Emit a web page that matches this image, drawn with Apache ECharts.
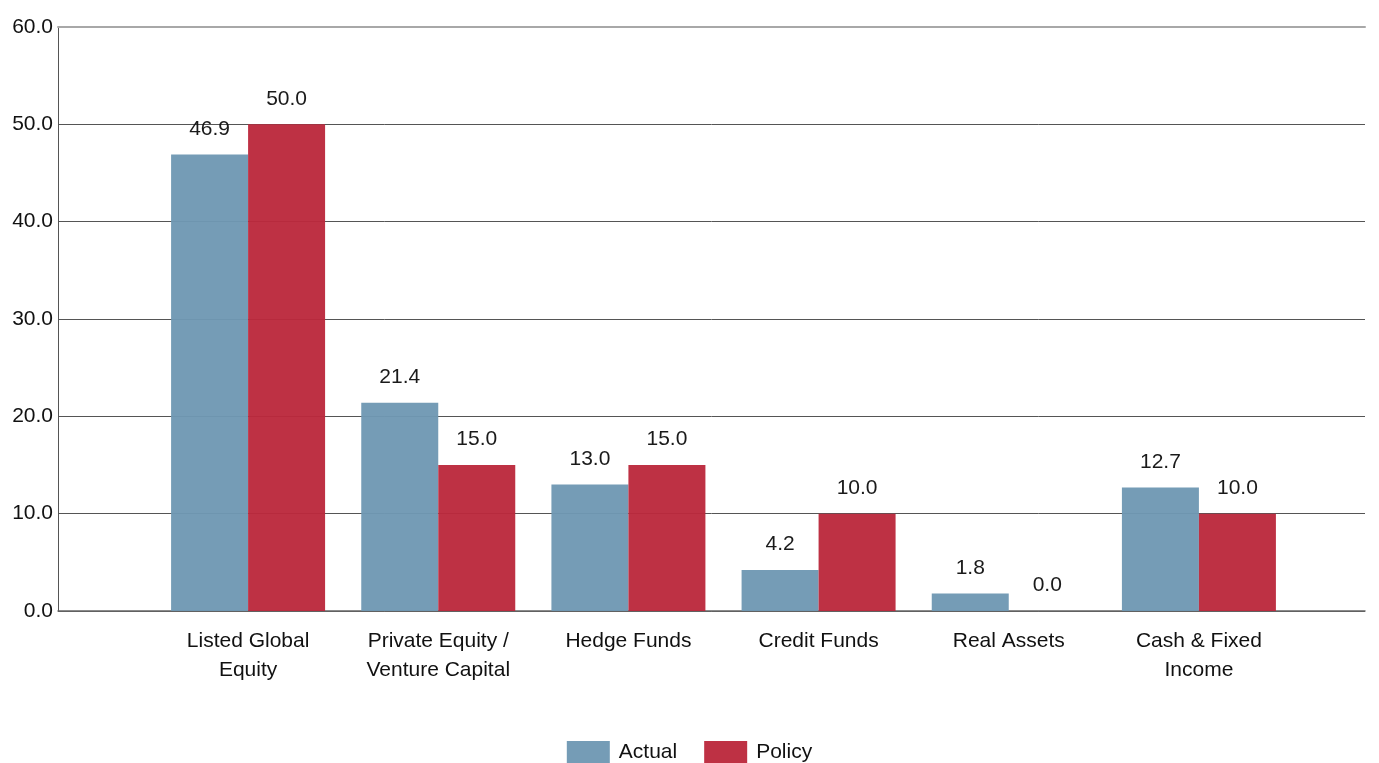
<!DOCTYPE html>
<html>
<head>
<meta charset="utf-8">
<script src="https://cdn.jsdelivr.net/npm/echarts@6/dist/echarts.min.js"></script>
<style>
  html, body { margin: 0; padding: 0; background: #fff; }
  #chart { width: 1379px; height: 763px; }
</style>
</head>
<body>
<div id="chart"></div>
<script>
// data
var categories = ['Listed Global\nEquity', 'Private Equity /\nVenture Capital', 'Hedge Funds', 'Credit Funds', 'Real Assets', 'Cash & Fixed\nIncome']
var actual = [46.9, 21.4, 13.0, 4.2, 1.8, 12.7]
var policy = [50.0, 15.0, 15.0, 10.0, 0.0, 10.0]
var yTicks = [0, 10, 20, 30, 40, 50, 60]

var font = '"Liberation Sans", Arial, sans-serif'
var fs = 21

let chart = echarts.init(document.getElementById('chart'))
chart.setOption({
  animation: false,
  textStyle: { fontFamily: font },
  legend: {
    bottom: -5,
    left: 'center',
    itemWidth: 43,
    itemHeight: 22,
    itemGap: 27,
    icon: 'rect',
    textStyle: { fontFamily: font, fontSize: fs, color: '#111', padding: [0, 0, 0, 4] },
    data: ['Actual', 'Policy']
  },
  grid: [
    // full plot frame: gridlines + y labels
    { left: 58, right: 14, top: 27, bottom: 152 },
    // bars sit in the inner band
    { left: 153, right: 85, top: 27, bottom: 152 }
  ],
  xAxis: [
    {
      gridIndex: 0,
      type: 'category',
      data: [''],
      axisLine: { lineStyle: { color: '#666', width: 1.5 } },
      axisTick: { show: false },
      axisLabel: { show: false }
    },
    {
      gridIndex: 0,
      type: 'category',
      position: 'top',
      data: [''],
      axisLine: { lineStyle: { color: '#a8a8a8', width: 2 } },
      axisTick: { show: false },
      axisLabel: { show: false }
    },
    {
      gridIndex: 1,
      type: 'category',
      data: categories,
      axisLine: { show: false },
      axisTick: { show: false },
      axisLabel: {
        interval: 0,
        margin: 16,
        fontFamily: font,
        fontSize: fs,
        lineHeight: 29,
        color: '#111'
      }
    }
  ],
  yAxis: [
    {
      gridIndex: 0,
      type: 'value',
      min: yTicks[0],
      max: yTicks[yTicks.length - 1],
      interval: 10,
      axisLine: { show: true, lineStyle: { color: '#555', width: 1 } },
      axisTick: { show: false },
      axisLabel: {
        margin: 5,
        fontFamily: font,
        fontSize: fs,
        color: '#111',
        formatter: function (v) { return v.toFixed(1) }
      },
      splitLine: { lineStyle: { color: '#555', width: 1 } }
    },
    {
      gridIndex: 1,
      type: 'value',
      min: yTicks[0],
      max: yTicks[yTicks.length - 1],
      interval: 10,
      show: false,
      splitLine: { show: false }
    }
  ],
  series: [
    {
      name: 'Actual',
      type: 'bar',
      xAxisIndex: 2,
      yAxisIndex: 1,
      barWidth: 77,
      barGap: '0%',
      data: actual,
      itemStyle: { color: '#6f98b3', opacity: 0.96 },
      label: {
        show: true,
        position: 'top',
        distance: 15,
        fontFamily: font,
        fontSize: fs,
        color: '#111',
        formatter: function (p) { return p.value.toFixed(1) }
      }
    },
    {
      name: 'Policy',
      type: 'bar',
      xAxisIndex: 2,
      yAxisIndex: 1,
      barWidth: 77,
      barGap: '0%',
      data: policy,
      itemStyle: { color: '#bb293c', opacity: 0.96 },
      label: {
        show: true,
        position: 'top',
        distance: 15,
        fontFamily: font,
        fontSize: fs,
        color: '#111',
        formatter: function (p) { return p.value.toFixed(1) }
      }
    }
  ]
})
</script>
</body>
</html>
